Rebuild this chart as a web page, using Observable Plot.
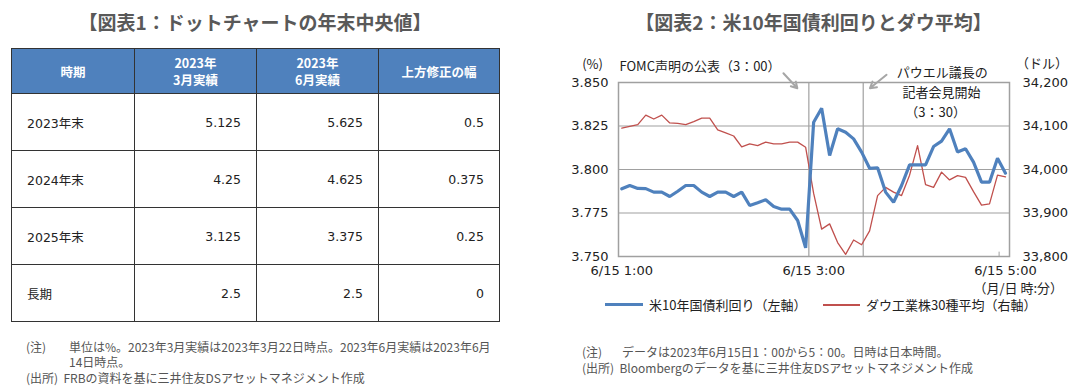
<!DOCTYPE html>
<html>
<head>
<meta charset="utf-8">
<script src="https://cdn.jsdelivr.net/npm/d3@7"></script>
<script src="https://cdn.jsdelivr.net/npm/@observablehq/plot@0.6"></script>
<style>
  body { margin: 0; background: #fff; }
  #root { position: relative; width: 1087px; height: 391px; background: #fff; overflow: hidden;
          font-family: "DejaVu Sans", "Noto Sans CJK JP", sans-serif; color: #222; }
  .title { position: absolute; top: 9px; text-align: center; font-family: "Noto Sans CJK JP", sans-serif;
           font-weight: bold; font-size: 19px; line-height: 26px; color: #595959; }
  table { position: absolute; left: 11px; top: 48px; width: 488px; border-collapse: collapse; table-layout: fixed;
          font-family: "DejaVu Sans", "Noto Sans CJK JP", sans-serif; font-size: 12.5px; color: #222; }
  th, td { border: 1px solid #333; padding: 0 15px; }
  th { background: #4F81BD; color: #fff; height: 44px; font-weight: bold; text-align: center; line-height: 17px;
       font-family: "Noto Sans CJK JP", sans-serif; font-size: 12.5px; }
  td { height: 56px; text-align: right; }
  td:first-child { text-align: left; }
  .note { position: absolute; font-size: 12px; line-height: 15px; color: #555;
          font-family: "Noto Sans CJK JP", sans-serif; white-space: nowrap; }
  .legend { position: absolute; top: 297px; font-size: 13px; line-height: 16px; font-family: "Noto Sans CJK JP", sans-serif; color: #222; white-space: nowrap; }
  .sw { position: absolute; }
</style>
</head>
<body>
<div id="root">
  <div class="title" style="left:0;width:510px;">【図表1：ドットチャートの年末中央値】</div>
  <div id="tbl"></div>
  <div class="note" style="left:26px;top:339px;">(注)</div>
  <div class="note" style="left:69px;top:339px;">単位は%。2023年3月実績は2023年3月22日時点。2023年6月実績は2023年6月<br>14日時点。</div>
  <div class="note" style="left:26px;top:370px;">(出所)&nbsp;&nbsp;FRBの資料を基に三井住友DSアセットマネジメント作成</div>

  <div class="title" style="left:540px;width:547px;">【図表2：米10年国債利回りとダウ平均】</div>
  <div id="chart" style="position:absolute;left:540px;top:40px;"></div>
  <div class="sw" style="left:605px;top:303px;width:38px;height:3px;background:#4F81BD;"></div>
  <div class="legend" style="left:649px;">米10年国債利回り（左軸）</div>
  <div class="sw" style="left:823px;top:304px;width:37px;height:1.5px;background:#C0504D;"></div>
  <div class="legend" style="left:866px;">ダウ工業株30種平均（右軸）</div>
  <div class="note" style="left:582px;top:344px;">(注)</div>
  <div class="note" style="left:622px;top:344px;">データは2023年6月15日1：00から5：00。日時は日本時間。</div>
  <div class="note" style="left:582px;top:360px;">(出所)&nbsp;&nbsp;Bloombergのデータを基に三井住友DSアセットマネジメント作成</div>
</div>
<script>
// ---------- Table data ----------
const tableHeader = ["時期", "2023年<br>3月実績", "2023年<br>6月実績", "上方修正の幅"];
const periods = ["2023年末", "2024年末", "2025年末", "長期"];
const marchValues = ["5.125", "4.25", "3.125", "2.5"];
const juneValues = ["5.625", "4.625", "3.375", "2.5"];
const revisionValues = ["0.5", "0.375", "0.25", "0"];

// ---------- Chart data ----------
const times = [
  "1:00","1:05","1:10","1:15","1:20","1:25","1:30","1:35","1:40","1:45","1:50","1:55",
  "2:00","2:05","2:10","2:15","2:20","2:25","2:30","2:35","2:40","2:45","2:50","2:55",
  "3:00","3:05","3:10","3:15","3:20","3:25","3:30","3:35","3:40","3:45","3:50","3:55",
  "4:00","4:05","4:10","4:15","4:20","4:25","4:30","4:35","4:40","4:45","4:50","4:55",
  "5:00"
];
const yieldValues = [
  3.7889,3.7908,3.7891,3.7890,3.7870,3.7870,3.7845,3.7875,3.7908,3.7908,3.7870,3.7845,
  3.7870,3.7870,3.7845,3.7870,3.7793,3.7809,3.7826,3.7787,3.7772,3.7772,3.7707,3.7550,
  3.8272,3.8352,3.8080,3.8234,3.8214,3.8176,3.8100,3.8007,3.8010,3.7870,3.7812,3.7908,
  3.8027,3.8027,3.8027,3.8132,3.8163,3.8234,3.8100,3.8119,3.8042,3.7927,3.7927,3.8065,
  3.7979
];
const dowValues = [
  34095,34099,34103,34125,34116,34125,34107,34106,34103,34110,34118,34118,
  34091,34084,34077,34052,34059,34055,34063,34059,34059,34063,34063,34051,
  33945,33863,33875,33832,33805,33838,33827,33859,33940,33959,33948,33940,
  33987,34055,33965,33959,33994,33976,33986,33982,33949,33918,33921,33987,
  33983
];
const yieldTicks = [3.750, 3.775, 3.800, 3.825, 3.850];
const dowTicks = [33800, 33900, 34000, 34100, 34200];
const xTickTimes = ["1:00", "3:00", "5:00"];
const xTickLabels = ["6/15 1:00", "6/15 3:00", "6/15 5:00"];
const eventTimes = ["2:57", "3:31"];

// ---------- Build table ----------
const tbl = d3.select("#tbl").append("table");
const cg = tbl.append("colgroup");
[123, 122, 122, 121].forEach(w => cg.append("col").style("width", w + "px"));
tbl.append("tr").selectAll("th").data(tableHeader).join("th").html(d => d);
periods.forEach((p, i) => {
  tbl.append("tr").selectAll("td")
    .data([p, marchValues[i], juneValues[i], revisionValues[i]])
    .join("td").text(d => d);
});

// ---------- Chart ----------
const toMin = t => { const [h, m] = t.split(":").map(Number); return (h - 1) * 60 + m; };
const yLo = 3.75, yHi = 3.85, dLo = 33800, dHi = 34200;
const dowToY = d => yLo + (d - dLo) / (dHi - dLo) * (yHi - yLo);
const yToDow = y => Math.round(dLo + (y - yLo) / (yHi - yLo) * (dHi - dLo));

const series = times.map((t, i) => ({ x: toMin(t), yld: yieldValues[i], dow: dowToY(dowValues[i]) }));

const gray = "#a0a0a0";
const font = '"DejaVu Sans","Noto Sans CJK JP",sans-serif';
const jp = '"Noto Sans CJK JP",sans-serif';

const chart = Plot.plot({
  width: 547,
  height: 260,
  marginLeft: 78,
  marginRight: 78,
  marginTop: 42,
  marginBottom: 44,
  style: { fontFamily: font, fontSize: "13px", color: "#222", background: "transparent", overflow: "visible" },
  x: { type: "linear", domain: [-2.06, 242.5], axis: null },
  y: { domain: [yLo, yHi], axis: null },
  marks: [
    Plot.ruleY(yieldTicks.slice(1, -1), { stroke: gray, strokeWidth: 1.2 }),
    Plot.ruleX(eventTimes.map(toMin), { stroke: gray, strokeWidth: 1.2 }),
    Plot.ruleX([toMin("4:56")], { y1: yLo, y2: yLo + 0.0025, stroke: gray }),
    Plot.frame({ stroke: gray, strokeWidth: 1.5 }),
    Plot.line(series, { x: "x", y: "dow", stroke: "#C0504D", strokeWidth: 1.3 }),
    Plot.line(series, { x: "x", y: "yld", stroke: "#4F81BD", strokeWidth: 3.2, strokeLinejoin: "miter" }),
    Plot.axisY({ anchor: "left", ticks: yieldTicks, tickSize: 0, tickPadding: 10, tickFormat: d => d.toFixed(3), fontSize: 13 }),
    Plot.axisY({ anchor: "right", ticks: dowTicks.map(dowToY), tickSize: 0, tickPadding: 13, tickFormat: d => d3.format(",")(yToDow(d)), fontSize: 13 }),
    Plot.axisX({ ticks: xTickTimes.map(toMin), tickSize: 0, tickPadding: 9, tickFormat: (d) => xTickLabels[xTickTimes.map(toMin).indexOf(d)], fontSize: 13 }),
    Plot.text(["(%)"], { x: -18.3, y: 3.8603, fontSize: 13, fontFamily: jp }),
    Plot.text(["（ドル）"], { x: 262.9, y: 3.8609, fontSize: 13, fontFamily: jp }),
    Plot.text(["（月/日 時:分）"], { x: 248, y: 3.7316, fontSize: 13, fontFamily: jp }),
    Plot.text(["FOMC声明の公表（3：00）"], { x: -1.5, y: 3.8588, textAnchor: "start", fontSize: 13, fontFamily: jp }),
    Plot.text(["パウエル議長の"], { x: 200.4, y: 3.8556, fontSize: 13, fontFamily: jp }),
    Plot.text(["記者会見開始"], { x: 200, y: 3.8441, fontSize: 13, fontFamily: jp }),
    Plot.text(["（3：30）"], { x: 196.3, y: 3.8324, fontSize: 13, fontFamily: jp }),
    Plot.arrow([{ x1: 101.1, y1: 3.8553, x2: 109.8, y2: 3.8467 }, { x1: 165.6, y1: 3.8544, x2: 155.2, y2: 3.8467 }],
      { x1: "x1", y1: "y1", x2: "x2", y2: "y2", stroke: "#a6a6a6", strokeWidth: 2, headLength: 8 })
  ]
});
document.getElementById("chart").appendChild(chart);
</script>
</body>
</html>
